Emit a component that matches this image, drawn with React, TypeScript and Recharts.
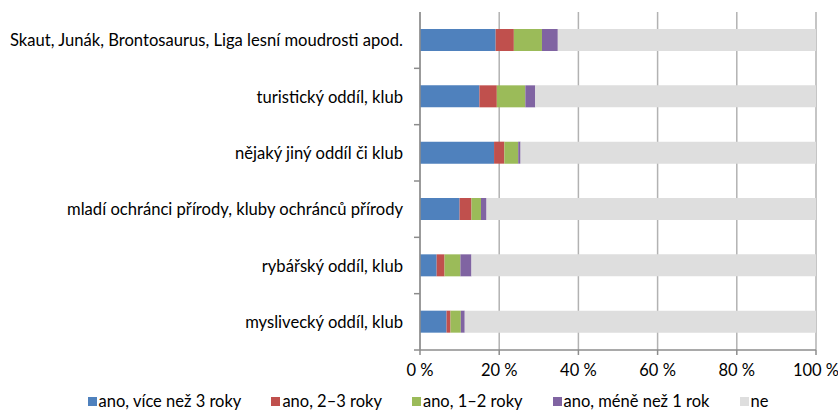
import React from "react";
import { BarChart, Bar, XAxis, YAxis, CartesianGrid, Legend } from "recharts";

const categories = [
  "Skaut, Junák, Brontosaurus, Liga lesní moudrosti apod.",
  "turistický oddíl, klub",
  "nějaký jiný oddíl či klub",
  "mladí ochránci přírody, kluby ochránců přírody",
  "rybářský oddíl, klub",
  "myslivecký oddíl, klub",
];

const over3 = [19.1, 15.0, 18.7, 10.0, 4.2, 6.7];
const y2to3 = [4.6, 4.4, 2.6, 3.0, 2.0, 1.0];
const y1to2 = [7.1, 7.2, 3.5, 2.4, 4.0, 2.6];
const under1 = [4.0, 2.5, 0.6, 1.4, 2.8, 1.0];
const ne = [65.2, 70.9, 74.6, 83.2, 87.0, 88.7];

const xTicks = [0, 20, 40, 60, 80, 100];

const series = [
  { key: "over3", name: "ano, více než 3 roky", color: "#4F81BD" },
  { key: "y2to3", name: "ano, 2–3 roky", color: "#C0504D" },
  { key: "y1to2", name: "ano, 1–2 roky", color: "#9BBB59" },
  { key: "under1", name: "ano, méně než 1 rok", color: "#8064A2" },
  { key: "ne", name: "ne", color: "#DEDEDE" },
];

const data = categories.map((name, i) => ({
  name,
  over3: over3[i],
  y2to3: y2to3[i],
  y1to2: y1to2[i],
  under1: under1[i],
  ne: ne[i],
}));

const FONT = "Lato, 'Open Sans', sans-serif";
const W = 838;
const H = 411;
const MARGIN = { top: 12, right: 22, left: 0, bottom: 0 };
const Y_W = 420;
const X_H = 32;
const LEGEND_H = 29;
const BAND = (H - MARGIN.top - X_H - LEGEND_H) / categories.length;
const AXIS_X = MARGIN.left + Y_W;

const YTick = ({ x, y, payload }: any) => (
  <g>
    <text x={x} y={y} textAnchor="end" dominantBaseline="central" fontSize={16.6} fill="#000" fontFamily={FONT}>
      {payload.value}
    </text>
    <line x1={AXIS_X - 6} x2={AXIS_X} y1={y + BAND / 2} y2={y + BAND / 2} stroke="#8C8C8C" strokeWidth={1.5} />
  </g>
);

const LegendContent = () => (
  <div
    style={{
      height: LEGEND_H,
      boxSizing: "border-box",
      paddingTop: 9,
      display: "flex",
      justifyContent: "center",
      alignItems: "center",
      gap: 30,
      paddingLeft: 40,
      fontFamily: FONT,
      fontSize: 16.5,
      color: "#000",
    }}
  >
    {series.map((s) => (
      <div key={s.key} style={{ display: "flex", alignItems: "center", gap: 2 }}>
        <span style={{ width: 9, height: 9, background: s.color, display: "inline-block" }} />
        <span>{s.name}</span>
      </div>
    ))}
  </div>
);

export default function App() {
  return (
    <div style={{ position: "absolute", left: 0, top: 0, width: W, height: H, background: "#fff" }}>
      <BarChart width={W} height={H} data={data} layout="vertical" margin={MARGIN} barSize={22}>
        <CartesianGrid horizontal={false} stroke="#B2B2B2" strokeWidth={1.5} />
        <XAxis
          type="number"
          domain={[0, 100]}
          ticks={xTicks}
          tickFormatter={(v) => `${v} %`}
          height={X_H}
          tickSize={5}
          tickMargin={9}
          stroke="#8C8C8C"
          axisLine={{ stroke: "#8C8C8C", strokeWidth: 1.5 }}
          tickLine={{ stroke: "#8C8C8C", strokeWidth: 1.5 }}
          tick={{ fill: "#000", fontSize: 16.5, fontFamily: FONT }}
          interval={0}
        />
        <YAxis
          type="category"
          dataKey="name"
          width={Y_W}
          tickLine={false}
          tickSize={6}
          tickMargin={11}
          axisLine={{ stroke: "#8C8C8C", strokeWidth: 1.5 }}
          tick={<YTick />}
          interval={0}
        />
        <Legend verticalAlign="bottom" height={LEGEND_H} content={<LegendContent />} />
        {series.map((s) => (
          <Bar key={s.key} dataKey={s.key} name={s.name} stackId="a" fill={s.color} isAnimationActive={false} />
        ))}
      </BarChart>
    </div>
  );
}
